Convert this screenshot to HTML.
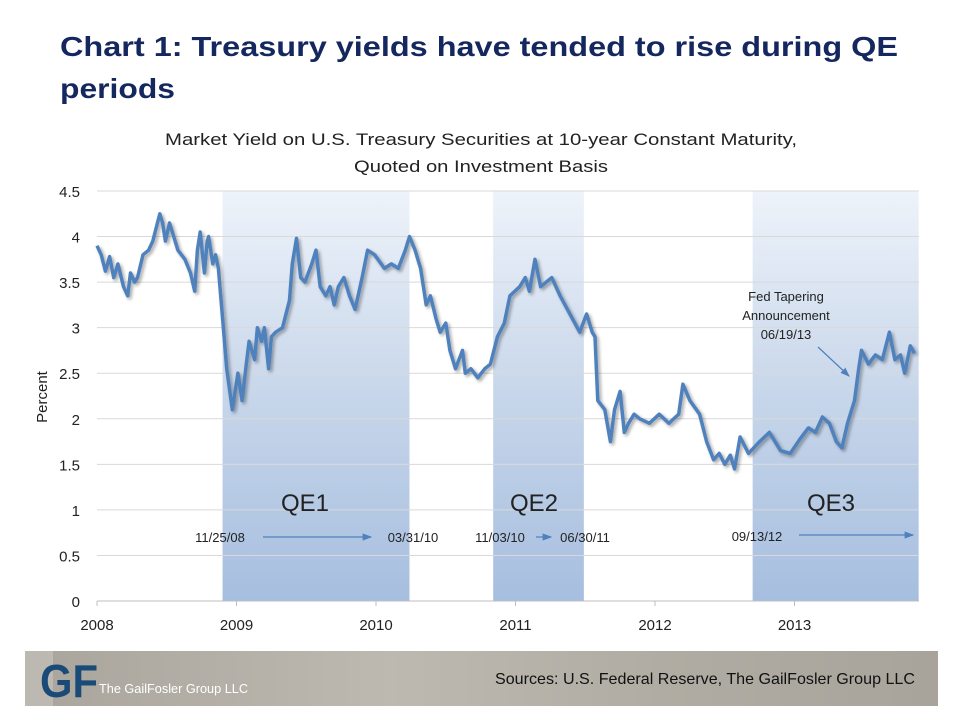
<!DOCTYPE html>
<html><head><meta charset="utf-8"><style>
html,body{margin:0;padding:0;background:#fff;}
svg{display:block;font-family:"Liberation Sans",sans-serif;}
</style></head><body>
<svg id="chart" width="963" height="723" viewBox="0 0 963 723" xmlns="http://www.w3.org/2000/svg">
<defs>
<linearGradient id="qeg" x1="0" y1="0" x2="0" y2="1">
<stop offset="0" stop-color="#eef3fa"/><stop offset="0.5" stop-color="#c7d6ea"/><stop offset="1" stop-color="#a6bedf"/>
</linearGradient>
<linearGradient id="foot" x1="0" y1="0" x2="1" y2="0">
<stop offset="0" stop-color="#a9a59c"/><stop offset="0.4" stop-color="#bdb9b0"/><stop offset="0.7" stop-color="#b0aca3"/><stop offset="1" stop-color="#a8a49b"/>
</linearGradient>
<filter id="sh" x="-5%" y="-5%" width="110%" height="110%"><feDropShadow dx="2" dy="2" stdDeviation="1.5" flood-color="#000" flood-opacity="0.35"/></filter>
<marker id="ar" markerWidth="8" markerHeight="6" refX="7" refY="3" orient="auto"><path d="M0,0 L8,3 L0,6z" fill="#4f81bd"/></marker>
</defs>
<text x="60" y="56" font-size="28" font-weight="bold" fill="#14275e" textLength="838" lengthAdjust="spacingAndGlyphs">Chart 1:  Treasury yields have tended to rise during QE</text>
<text x="60" y="98" font-size="28" font-weight="bold" fill="#14275e" textLength="115" lengthAdjust="spacingAndGlyphs">periods</text>
<text x="481" y="145" font-size="17" fill="#222" text-anchor="middle" textLength="632" lengthAdjust="spacingAndGlyphs">Market Yield on U.S. Treasury Securities at 10-year Constant Maturity,</text>
<text x="481" y="172" font-size="17" fill="#222" text-anchor="middle" textLength="254" lengthAdjust="spacingAndGlyphs">Quoted on Investment Basis</text>
<g id="bands"></g>
<g id="grid"></g>
<g id="axes"></g>
<g id="series"></g>
<g id="annot"></g>
<g>
<rect x="25" y="651" width="913" height="55" fill="url(#foot)"/>
<rect x="25" y="651" width="28" height="55" fill="#c9c6bf" opacity="0.6"/>
<text x="40" y="697" font-size="46" font-weight="bold" fill="#1a4a78" textLength="58" lengthAdjust="spacingAndGlyphs">GF</text>
<text x="99" y="693" font-size="13" fill="#fff" textLength="149" lengthAdjust="spacingAndGlyphs">The GailFosler Group LLC</text>
<text x="495" y="684" font-size="16" fill="#111" textLength="420" lengthAdjust="spacingAndGlyphs">Sources: U.S. Federal Reserve, The GailFosler Group LLC</text>
</g>
</svg>
<script>
const yTicks=[0,0.5,1,1.5,2,2.5,3,3.5,4,4.5];
const yTickLabels=["0","0.5","1","1.5","2","2.5","3","3.5","4","4.5"];
const xYears=[2008,2009,2010,2011,2012,2013];
const qeNames=["QE1","QE2","QE3"];
const qeStarts=[2008.90,2010.84,2012.70];
const qeEnds=[2010.24,2011.49,2013.89];
const dates=[2008.00,2008.03,2008.06,2008.09,2008.12,2008.15,2008.19,2008.22,2008.24,2008.27,2008.29,2008.33,2008.37,2008.40,2008.45,2008.47,2008.49,2008.52,2008.54,2008.58,2008.63,2008.67,2008.70,2008.72,2008.74,2008.77,2008.79,2008.80,2008.83,2008.85,2008.87,2008.90,2008.93,2008.97,2009.01,2009.04,2009.07,2009.09,2009.13,2009.15,2009.18,2009.20,2009.23,2009.25,2009.28,2009.33,2009.38,2009.40,2009.43,2009.46,2009.49,2009.54,2009.57,2009.60,2009.64,2009.67,2009.70,2009.73,2009.77,2009.81,2009.85,2009.90,2009.94,2009.99,2010.06,2010.11,2010.16,2010.21,2010.24,2010.28,2010.32,2010.36,2010.39,2010.43,2010.46,2010.50,2010.53,2010.57,2010.62,2010.64,2010.68,2010.73,2010.78,2010.82,2010.87,2010.92,2010.96,2011.03,2011.07,2011.10,2011.14,2011.18,2011.22,2011.26,2011.32,2011.39,2011.46,2011.51,2011.55,2011.57,2011.59,2011.64,2011.68,2011.71,2011.75,2011.78,2011.81,2011.85,2011.89,2011.96,2012.03,2012.10,2012.17,2012.20,2012.25,2012.32,2012.37,2012.42,2012.46,2012.50,2012.54,2012.57,2012.61,2012.67,2012.75,2012.82,2012.90,2012.97,2013.04,2013.10,2013.15,2013.20,2013.25,2013.30,2013.34,2013.38,2013.43,2013.46,2013.48,2013.53,2013.58,2013.63,2013.68,2013.72,2013.76,2013.79,2013.83,2013.86,2013.89];
const yields=[3.90,3.80,3.62,3.78,3.55,3.70,3.45,3.35,3.60,3.50,3.55,3.80,3.85,3.95,4.25,4.15,3.95,4.15,4.05,3.85,3.75,3.60,3.40,3.85,4.05,3.60,3.95,4.00,3.70,3.80,3.65,3.10,2.55,2.10,2.50,2.20,2.60,2.85,2.65,3.00,2.85,3.00,2.55,2.90,2.95,3.00,3.30,3.70,3.98,3.55,3.50,3.70,3.85,3.45,3.35,3.45,3.25,3.45,3.55,3.35,3.20,3.55,3.85,3.80,3.65,3.70,3.65,3.85,4.00,3.85,3.65,3.25,3.35,3.10,2.95,3.05,2.75,2.55,2.75,2.50,2.55,2.45,2.55,2.60,2.90,3.05,3.35,3.45,3.55,3.40,3.75,3.45,3.50,3.55,3.35,3.15,2.95,3.15,2.95,2.90,2.20,2.10,1.75,2.10,2.30,1.85,1.95,2.05,2.00,1.95,2.05,1.95,2.05,2.38,2.20,2.05,1.75,1.55,1.62,1.50,1.60,1.45,1.80,1.62,1.75,1.85,1.65,1.62,1.78,1.90,1.85,2.02,1.95,1.75,1.68,1.95,2.20,2.55,2.75,2.60,2.70,2.65,2.95,2.65,2.70,2.50,2.80,2.72];

const NS='http://www.w3.org/2000/svg';
const L=97,R=919,T=191,B=601;
const X=v=>L+(v-2008)*139.5;
const Y=v=>B-(v/4.5)*(B-T);
function mk(tag,attrs,parent){const e=document.createElementNS(NS,tag);for(const k in attrs)e.setAttribute(k,attrs[k]);parent.appendChild(e);return e;}
const bands=document.getElementById('bands'),grid=document.getElementById('grid'),axes=document.getElementById('axes'),series=document.getElementById('series'),annot=document.getElementById('annot');

qeNames.forEach((n,i)=>{
  const r=mk('rect',{x:X(qeStarts[i]),y:T,width:X(qeEnds[i])-X(qeStarts[i]),height:B-T,fill:'url(#qeg)'},bands);
  
  
});
yTicks.forEach((v,i)=>{
  if(v>0){const g=mk('line',{x1:L,x2:R,y1:Y(v),y2:Y(v),stroke:'#d9d9d9','stroke-width':1},grid);
  
  }
  const t=mk('text',{x:80,y:Y(v)+6,'font-size':15,fill:'#222','text-anchor':'end'},axes);
  t.textContent=yTickLabels[i];
  
  
});
const ax=mk('line',{x1:L,x2:R,y1:B,y2:B,stroke:'#bfbfbf','stroke-width':1},axes);


xYears.forEach(yv=>{
  const tk=mk('line',{x1:X(yv),x2:X(yv),y1:B,y2:B+5,stroke:'#bfbfbf'},axes);
  
  
  const t=mk('text',{x:X(yv),y:B+29,'font-size':15,fill:'#222','text-anchor':'middle'},axes);
  t.textContent=String(yv);
  
  
});
const yt=mk('text',{x:0,y:0,'font-size':15,fill:'#222','text-anchor':'middle',transform:'translate(47,397) rotate(-90)'},axes);
yt.textContent='Percent';



const d=dates.map((x,i)=>(i?'L':'M')+X(x).toFixed(1)+','+Y(yields[i]).toFixed(1)).join(' ');
const p=mk('path',{d:d,fill:'none',stroke:'#4f81bd','stroke-width':3.5,'stroke-linejoin':'round',filter:'url(#sh)'},series);



function txt(s,x,y,size,name,anchor){const t=mk('text',{x:x,y:y,'font-size':size,fill:'#222','text-anchor':anchor||'middle'},annot);t.textContent=s;return t;}
txt('QE1',305,511,24,'qe1-label');
txt('QE2',534,511,24,'qe2-label');
txt('QE3',831,511,24,'qe3-label');
txt('11/25/08',220,542,13,'qe1-start-date');
txt('03/31/10',413,542,13,'qe1-end-date');
txt('11/03/10',500,542,13,'qe2-start-date');
txt('06/30/11',585,542,13,'qe2-end-date');
txt('09/13/12',757,541,13,'qe3-start-date');
txt('Fed Tapering',786,301,13,'taper-note-1');
txt('Announcement',786,320,13,'taper-note-2');
txt('06/19/13',786,339,13,'taper-note-3');
[[263,537,371,537],[536,537,551,537],[799,535,913,535],[818,347,849,376]].forEach(a=>{
  const l=mk('line',{x1:a[0],y1:a[1],x2:a[2],y2:a[3],stroke:'#4f81bd','stroke-width':1.2,'marker-end':'url(#ar)'},annot);
  
  
});
</script>
</body></html>
